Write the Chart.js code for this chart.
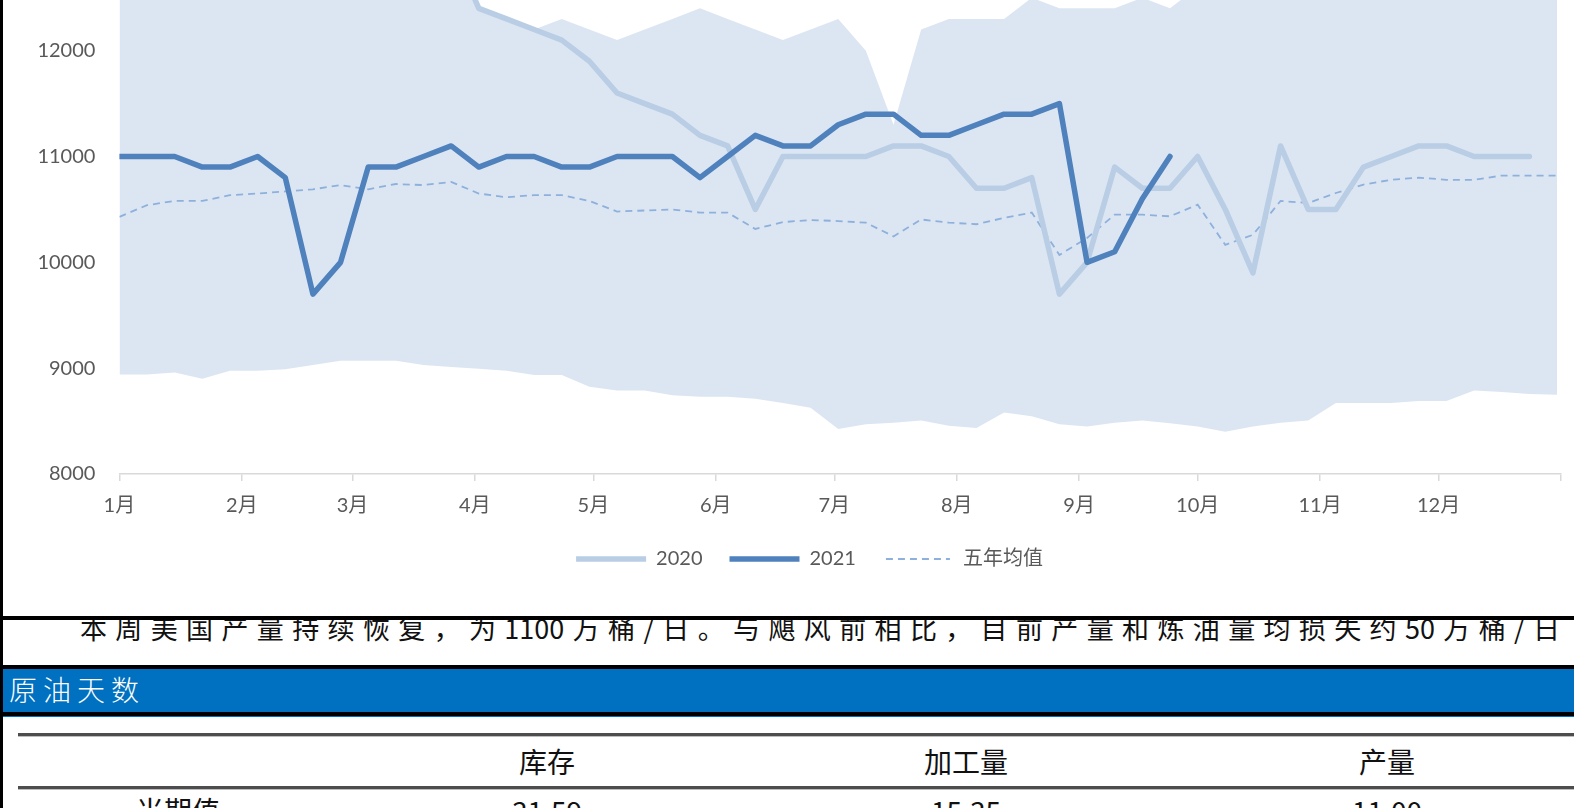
<!DOCTYPE html>
<html>
<head>
<meta charset="utf-8">
<script src="https://cdn.jsdelivr.net/npm/chart.js@4.4.1/dist/chart.umd.min.js"></script>
<style>
  html, body { margin:0; padding:0; background:#fff; }
  body { position:relative; width:1574px; height:808px; overflow:hidden; font-family:"Noto Sans CJK SC", sans-serif; }
  #frame { position:absolute; left:0; top:-220px; width:1571px; height:836px; border-left:3px solid #000; border-bottom:4px solid #000; background:#fff; z-index:2; }
  #chart-box { position:relative; width:1571px; height:836px; }
  #left-rule { position:absolute; left:0; top:0; width:3px; height:808px; background:#000; z-index:3; }
  #para { position:absolute; left:80px; top:614px; width:1480px; font-size:27px; line-height:27px; color:#111; text-align:justify; text-align-last:justify; z-index:1; }
  .black { position:absolute; left:0; width:1574px; height:4px; background:#000; }
  #bar { position:absolute; left:0; top:669px; width:1574px; height:43px; background:#0070c0; }
  #bar span { position:absolute; left:9px; top:6px; color:#fff; font-size:28px; line-height:28px; letter-spacing:6px; font-weight:300; }
  #bar-under { position:absolute; left:3px; top:716px; width:1571px; height:1px; background:#0070c0; }
  .rule { position:absolute; left:18px; width:1556px; height:3px; background:#4d4d4d; border-bottom:1px solid #bdbdbd; }
  .cell { position:absolute; width:420px; text-align:center; font-size:28px; line-height:28px; color:#111; }
</style>
</head>
<body>

<div id="frame"><div id="chart-box"><canvas id="chart-prod"></canvas></div></div>
<div id="left-rule"></div>

<div id="para">本周美国产量持续恢复，为1100万桶/日。与飓风前相比，目前产量和炼油量均损失约50万桶/日</div>

<div class="black" style="top:665px"></div>
<div id="bar"><span>原油天数</span></div>
<div class="black" style="top:712px"></div>
<div id="bar-under"></div>

<div class="rule" style="top:733px"></div>
<div class="cell" style="left:337px;top:747px">库存</div>
<div class="cell" style="left:756px;top:747px">加工量</div>
<div class="cell" style="left:1177px;top:747px">产量</div>
<div class="rule" style="top:786px"></div>
<div class="cell" style="left:-32px;top:796px">当期值</div>
<div class="cell" style="left:337px;top:796px">31.59</div>
<div class="cell" style="left:756px;top:796px">15.35</div>
<div class="cell" style="left:1177px;top:796px">11.00</div>

<script>
// 美国原油产量（千桶/日），周度
const STEP_DAYS = 7;

const monthLabels = ['1月','2月','3月','4月','5月','6月','7月','8月','9月','10月','11月','12月'];
const monthStartDays = [0,31,59,90,120,151,181,212,243,273,304,334,365];

const prod2020 = [12900,13000,13000,12900,12900,12900,13000,13000,13000,13000,13100,13000,13000,
  12400,12300,12200,12100,11900,11600,11500,11400,11200,11100,10500,11000,11000,11000,11000,
  11100,11100,11000,10700,10700,10800,9700,10000,10900,10700,10700,11000,10500,9900,11100,
  10500,10500,10900,11000,11100,11100,11000,11000,11000];

const prod2021 = [11000,11000,11000,10900,10900,11000,10800,9700,10000,10900,10900,11000,11100,
  10900,11000,11000,10900,10900,11000,11000,11000,10800,11000,11200,11100,11100,11300,11400,
  11400,11200,11200,11300,11400,11400,11500,10000,10100,10600,11000];

const avg5y = [10430,10540,10580,10580,10635,10650,10670,10690,10730,10690,10740,10730,10760,
  10650,10615,10635,10635,10580,10480,10490,10500,10470,10470,10315,10380,10400,10390,10375,
  10245,10405,10375,10360,10420,10470,10070,10230,10450,10450,10435,10545,10165,10260,10580,
  10560,10655,10735,10780,10800,10780,10780,10820,10820,10820];

const max5y = [12900,13000,13000,12900,12900,12900,13000,13000,13000,13000,13100,13000,13000,
  12400,12300,12200,12300,12200,12100,12200,12300,12400,12300,12200,12100,12200,12300,12000,
  11300,12200,12300,12300,12300,12500,12400,12400,12400,12500,12400,12600,12700,12800,12800,
  12900,12900,12800,12900,12900,12800,12900,12900,12800,12900];

const min5y = [8940,8940,8960,8900,8975,8975,8990,9030,9070,9070,9070,9030,9010,8995,8975,8935,
  8935,8825,8790,8790,8745,8730,8730,8710,8670,8625,8425,8470,8485,8505,8455,8435,8580,8545,
  8470,8450,8485,8505,8480,8450,8400,8450,8485,8505,8670,8670,8670,8690,8690,8790,8775,8755,8750];

const toPoints = vals => vals.map((v, i) => ({x: i * STEP_DAYS, y: v}));

Chart.defaults.font.family = 'Lato, "Noto Sans CJK SC", sans-serif';
Chart.defaults.font.size = 20;
Chart.defaults.color = '#595959';

const BAND = '#dce6f2';
const AVG_COLOR = '#8eb0dc';
const SWATCH_W = 70;

// dashed swatch for the 五年均值 legend entry (legend point styles ignore borderDash)
function dashedSwatch(){
  const c = document.createElement('canvas');
  c.width = SWATCH_W; c.height = 4;
  const g = c.getContext('2d');
  g.strokeStyle = AVG_COLOR;
  g.lineWidth = 1.8;
  g.setLineDash([7,5]);
  g.beginPath(); g.moveTo(3,2); g.lineTo(SWATCH_W - 3,2); g.stroke();
  return c;
}

// centre the legend on the original frame, which starts left of the y labels
const legendShift = {
  id: 'legendShift',
  afterLayout(chart){ if(chart.legend) chart.legend.left = 52; }
};

new Chart(document.getElementById('chart-prod'), {
  type: 'line',
  data: {
    datasets: [
      { label:'2020', data: toPoints(prod2020), borderColor:'#b9cde5', borderWidth:5.5,
        borderCapStyle:'round', borderJoinStyle:'round', pointRadius:0, pointStyle:'line', fill:false, order:2 },
      { label:'2021', data: toPoints(prod2021), borderColor:'#4f81bd', borderWidth:5.5,
        borderCapStyle:'round', borderJoinStyle:'round', pointRadius:0, pointStyle:'line', fill:false, order:1 },
      { label:'五年均值', data: toPoints(avg5y), borderColor:AVG_COLOR, borderWidth:1.8,
        borderDash:[7,5], pointRadius:0, pointStyle: dashedSwatch(), fill:false, order:3 },
      { label:'max', data: toPoints(max5y), borderColor:'transparent', borderWidth:0,
        backgroundColor: BAND, pointRadius:0, fill:'+1', order:4 },
      { label:'min', data: toPoints(min5y), borderColor:'transparent', borderWidth:0,
        pointRadius:0, fill:false, order:5 }
    ]
  },
  plugins: [legendShift],
  options: {
    responsive: true,
    maintainAspectRatio: false,
    animation: false,
    layout: { padding: { top:59, right:10, bottom:37, left:0 } },
    plugins: {
      tooltip: { enabled:false },
      legend: {
        position: 'bottom',
        labels: {
          usePointStyle: true,
          pointStyleWidth: SWATCH_W,
          padding: 27,
          color: '#595959',
          filter: item => item.datasetIndex < 3,
          sort: (a, b) => a.datasetIndex - b.datasetIndex
        }
      }
    },
    scales: {
      x: {
        type: 'linear',
        min: 0,
        max: 365,
        afterFit: s => { s.height = 48; },
        afterBuildTicks: s => { s.ticks = monthStartDays.map(d => ({value: d})); },
        border: { display:true, color:'#d9d9d9', width:1.5 },
        grid: { display:true, drawOnChartArea:false, drawTicks:true, tickLength:7, color:'#d9d9d9', lineWidth:1.5 },
        ticks: {
          autoSkip: false,
          maxRotation: 0,
          padding: 13,
          callback: v => monthLabels[monthStartDays.indexOf(v)] || ''
        }
      },
      y: {
        min: 8000,
        max: 14000,
        afterFit: s => { s.width = 116.4; },
        border: { display:false },
        grid: { display:false, drawTicks:false },
        ticks: { stepSize:1000, padding:24, callback: v => String(v) }
      }
    }
  }
});
</script>
</body>
</html>
